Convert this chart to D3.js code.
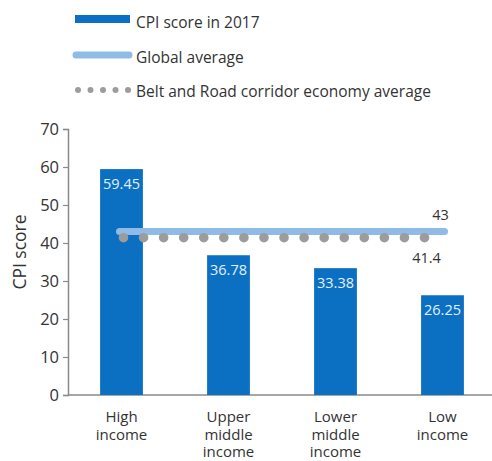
<!DOCTYPE html>
<html>
<head>
<meta charset="utf-8">
<script src="https://cdn.jsdelivr.net/npm/d3@7/dist/d3.min.js"></script>
<style>
  body { margin: 0; background: #fff; }
  svg { display: block; font-family: "Open Sans", sans-serif; }
</style>
</head>
<body>
<svg id="chart" width="492" height="461"></svg>
<script>
// Income groups and their 2017 CPI scores
const categories = [["High", "income"], ["Upper", "middle", "income"], ["Lower", "middle", "income"], ["Low", "income"]];
const cpiScores = [59.45, 36.78, 33.38, 26.25];
const globalAverage = 43;
const beltRoadAverage = 41.4;
const yTicks = [0, 10, 20, 30, 40, 50, 60, 70];
const legendLabels = ["CPI score in 2017", "Global average", "Belt and Road corridor economy average"];

const barColor = "#0b70c2";
const lineColor = "#8fbbe6";
const dotColor = "#9c9c9c";
const textColor = "#333";

const svg = d3.select("#chart");

const x = d3.scaleBand()
  .domain(categories.map((c, i) => i))
  .range([68, 496])
  .paddingInner(0.6)
  .paddingOuter(0.3);

const y = d3.scaleLinear().domain([0, 70]).range([395, 129]);

// Y axis
const yAxis = svg.append("g")
  .attr("transform", "translate(68,0)")
  .call(d3.axisLeft(y).tickValues(yTicks).tickSize(5).tickPadding(4));
yAxis.select(".domain").attr("stroke", "#8a8a8a").attr("stroke-width", 1.5);
yAxis.selectAll(".tick line").attr("stroke", "#8a8a8a").attr("stroke-width", 1.2);
yAxis.selectAll(".tick text")
  .attr("fill", textColor)
  .style("font-size", "16.5px")
  .style("font-family", "'Open Sans', sans-serif");

// X axis baseline
svg.append("line")
  .attr("x1", 68).attr("x2", 492)
  .attr("y1", y(0)).attr("y2", y(0))
  .attr("stroke", "#8a8a8a").attr("stroke-width", 1.5);

// Y axis title
svg.append("text")
  .attr("transform", "translate(26,252) rotate(-90)")
  .attr("text-anchor", "middle")
  .attr("fill", textColor)
  .style("font-size", "17.5px")
  .text("CPI score");

// Bars
svg.selectAll("rect.bar")
  .data(cpiScores)
  .join("rect")
  .attr("class", "bar")
  .attr("x", (d, i) => x(i))
  .attr("width", x.bandwidth())
  .attr("y", d => y(d))
  .attr("height", d => y(0) - y(d))
  .attr("fill", barColor);

// Value labels inside the bars
svg.selectAll("text.value")
  .data(cpiScores)
  .join("text")
  .attr("class", "value")
  .attr("x", (d, i) => x(i) + x.bandwidth() / 2)
  .attr("y", d => y(d) + 20)
  .attr("text-anchor", "middle")
  .attr("fill", "#e4f0fc")
  .style("font-size", "14.5px")
  .text(d => d.toFixed(2));

// Category labels
const catLabels = svg.selectAll("text.cat")
  .data(categories)
  .join("text")
  .attr("class", "cat")
  .attr("text-anchor", "middle")
  .attr("fill", textColor)
  .style("font-size", "15px")
  .attr("x", (d, i) => x(i) + x.bandwidth() / 2)
  .attr("y", 422);
catLabels.selectAll("tspan")
  .data((d, i) => d.map(s => ({ s, i })))
  .join("tspan")
  .attr("x", d => x(d.i) + x.bandwidth() / 2)
  .attr("dy", (d, j) => j === 0 ? 0 : 17.5)
  .text(d => d.s);

// Reference lines span from the first to the last bar centre
const xStart = x(0) + x.bandwidth() / 2 - 2;
const xEnd = x(categories.length - 1) + x.bandwidth() / 2 + 2;

svg.append("line")
  .attr("x1", xStart).attr("x2", xEnd)
  .attr("y1", y(globalAverage)).attr("y2", y(globalAverage))
  .attr("stroke", lineColor).attr("stroke-width", 7)
  .attr("stroke-linecap", "round");

const dotCount = 16;
const dotX = d3.range(dotCount).map(i => xStart + 4 + i * (xEnd - 20 - xStart - 4) / (dotCount - 1));
svg.selectAll("circle.avg")
  .data(dotX)
  .join("circle")
  .attr("class", "avg")
  .attr("cx", d => d)
  .attr("cy", y(beltRoadAverage))
  .attr("r", 4.8)
  .attr("fill", dotColor);

svg.append("text")
  .attr("x", xEnd - 4).attr("y", y(globalAverage) - 12)
  .attr("text-anchor", "middle")
  .attr("fill", textColor)
  .style("font-size", "14.5px")
  .text(globalAverage);

svg.append("text")
  .attr("x", xEnd - 18).attr("y", y(beltRoadAverage) + 25)
  .attr("text-anchor", "middle")
  .attr("fill", textColor)
  .style("font-size", "14.5px")
  .text(beltRoadAverage);

// Legend
const legend = svg.append("g");
legend.append("rect")
  .attr("x", 75).attr("y", 15).attr("width", 55).attr("height", 8)
  .attr("fill", barColor);
legend.append("line")
  .attr("x1", 76).attr("x2", 129).attr("y1", 55).attr("y2", 55)
  .attr("stroke", lineColor).attr("stroke-width", 7)
  .attr("stroke-linecap", "round");
legend.selectAll("circle")
  .data(d3.range(5))
  .join("circle")
  .attr("cx", d => 78 + d * 12.5)
  .attr("cy", 90)
  .attr("r", 3)
  .attr("fill", dotColor);
legend.selectAll("text")
  .data(legendLabels)
  .join("text")
  .attr("x", 136)
  .attr("y", (d, i) => [28, 63, 97][i])
  .attr("fill", textColor)
  .style("font-size", "15.5px")
  .text(d => d);
</script>
</body>
</html>
